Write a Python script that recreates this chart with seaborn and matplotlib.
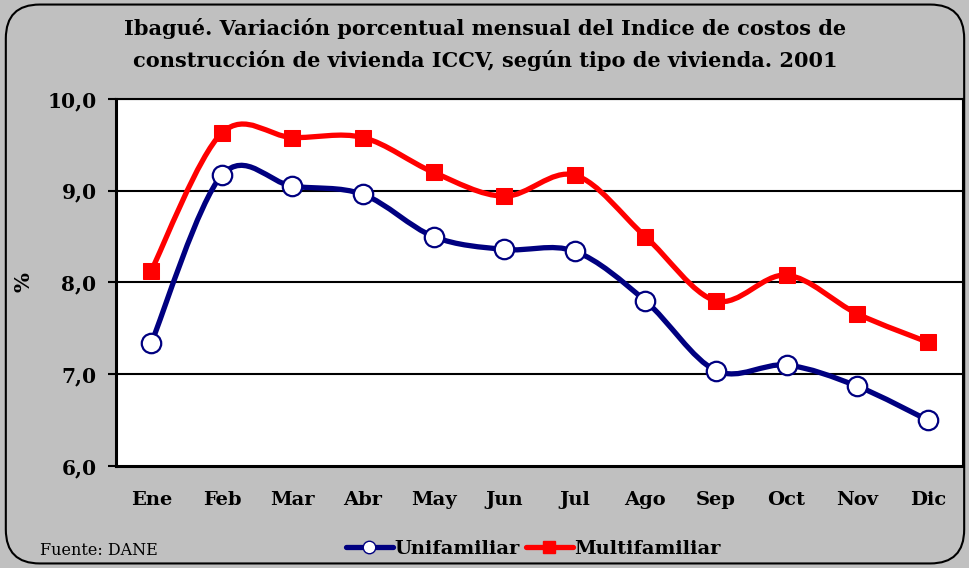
import numpy as np
import pandas as pd
import seaborn as sns
import matplotlib
matplotlib.use("Agg")
import matplotlib.pyplot as plt
from matplotlib.path import Path
from matplotlib.patches import PathPatch, FancyBboxPatch
from matplotlib.lines import Line2D

meses = ["Ene", "Feb", "Mar", "Abr", "May", "Jun", "Jul", "Ago", "Sep", "Oct", "Nov", "Dic"]
unifamiliar = [7.34, 9.17, 9.05, 8.96, 8.50, 8.36, 8.34, 7.80, 7.04, 7.10, 6.87, 6.50]
multifamiliar = [8.13, 9.63, 9.58, 9.58, 9.20, 8.94, 9.17, 8.50, 7.80, 8.08, 7.66, 7.35]
y_ticks = [6.0, 7.0, 8.0, 9.0, 10.0]
titulo = "Ibagué. Variación porcentual mensual del Indice de costos de\nconstrucción de vivienda ICCV, según tipo de vivienda. 2001"

sns.set_theme(style="white")
plt.rcParams["font.family"] = ["DejaVu Serif", "Liberation Serif"]
for k in ["text.color", "axes.labelcolor", "xtick.color", "ytick.color"]:
    plt.rcParams[k] = "black"

df = pd.DataFrame({
    "mes": meses * 2,
    "x": list(range(len(meses))) * 2,
    "valor": unifamiliar + multifamiliar,
    "serie": ["Unifamiliar"] * len(meses) + ["Multifamiliar"] * len(meses),
})

GRIS = "#C0C0C0"
AZUL = "#000080"
ROJO = "#FF0000"

fig = plt.figure(figsize=(9.7, 5.68), dpi=100)
fig.patch.set_facecolor(GRIS)
border = FancyBboxPatch((0.006, 0.008), 0.988, 0.984, boxstyle="round,pad=0,rounding_size=0.035",
                        transform=fig.transFigure, facecolor="none", edgecolor="black", lw=1.5,
                        mutation_aspect=970 / 568, zorder=10)
fig.patches.append(border)

ax = fig.add_axes([0.1196, 0.1796, 0.8732, 0.6461])
ax.set_facecolor("white")


def smooth_path(xs, ys):
    pts = np.column_stack([xs, ys])
    n = len(pts)
    verts = [pts[0]]
    codes = [Path.MOVETO]
    for i in range(n - 1):
        p0 = pts[i - 1] if i > 0 else pts[i]
        p1 = pts[i]
        p2 = pts[i + 1]
        p3 = pts[i + 2] if i + 2 < n else pts[i + 1]
        c1 = p1 + (p2 - p0) / 6.0
        c2 = p2 - (p3 - p1) / 6.0
        verts += [c1, c2, p2]
        codes += [Path.CURVE4] * 3
    return Path(verts, codes)


for serie, color in [("Unifamiliar", AZUL), ("Multifamiliar", ROJO)]:
    d = df[df["serie"] == serie]
    ax.add_patch(PathPatch(smooth_path(d["x"].values, d["valor"].values), fill=False,
                           edgecolor=color, lw=3.8, capstyle="round", joinstyle="round", zorder=3))

d_u = df[df["serie"] == "Unifamiliar"]
d_m = df[df["serie"] == "Multifamiliar"]
sns.lineplot(data=d_u, x="x", y="valor", ax=ax, linestyle="", marker="o", markersize=14,
             markerfacecolor="white", markeredgecolor=AZUL, markeredgewidth=1.6, zorder=4, legend=False)
sns.lineplot(data=d_m, x="x", y="valor", ax=ax, linestyle="", marker="s", markersize=11.5,
             markerfacecolor=ROJO, markeredgecolor=ROJO, zorder=4, legend=False)

ax.set_xlim(-0.5, len(meses) - 0.5)
ax.set_ylim(6.0, 10.0)
ax.set_yticks(y_ticks)
ax.set_yticklabels([f"{v:.1f}".replace(".", ",") for v in y_ticks], fontsize=14.5, fontweight="bold")
ax.set_xticks(np.arange(-0.5, len(meses), 1.0))
ax.set_xticklabels([])
ax.set_xticks(np.arange(len(meses)), minor=True)
ax.set_xticklabels(meses, minor=True, fontsize=14, fontweight="bold")
ax.tick_params(axis="x", which="major", direction="in", length=7, width=1.5, color="black")
ax.tick_params(axis="x", which="minor", length=0, pad=18)
ax.tick_params(axis="y", direction="out", length=6, width=1.5, color="black", pad=8, left=True)
ax.grid(False)
for v in y_ticks[1:]:
    ax.axhline(v, color="black", lw=1.5, zorder=1)
for side, w in [("left", 2.2), ("bottom", 2.2), ("top", 1.5), ("right", 1.5)]:
    ax.spines[side].set_visible(True)
    ax.spines[side].set_color("black")
    ax.spines[side].set_linewidth(w)
ax.set_xlabel("")
ax.set_ylabel("%", fontsize=15, fontweight="bold", labelpad=10)

fig.text(0.5, 0.922, titulo, ha="center", va="center", fontsize=15, fontweight="bold",
         linespacing=1.65)
fig.text(0.041, 0.031, "Fuente: DANE", ha="left", va="center", fontsize=11.5)

handles = [
    Line2D([0], [0], color=AZUL, lw=3.8, marker="o", markersize=9, markerfacecolor="white",
           markeredgecolor=AZUL),
    Line2D([0], [0], color=ROJO, lw=3.8, marker="s", markersize=8, markerfacecolor=ROJO,
           markeredgecolor=ROJO),
]
fig.legend(handles, ["Unifamiliar", "Multifamiliar"], loc="center", bbox_to_anchor=(0.55, 0.033),
           ncol=2, frameon=False, prop={"size": 14, "weight": "bold"}, handlelength=2.4,
           handletextpad=0.1, columnspacing=0.3)

fig.savefig("out.png", dpi=100, facecolor=GRIS)
